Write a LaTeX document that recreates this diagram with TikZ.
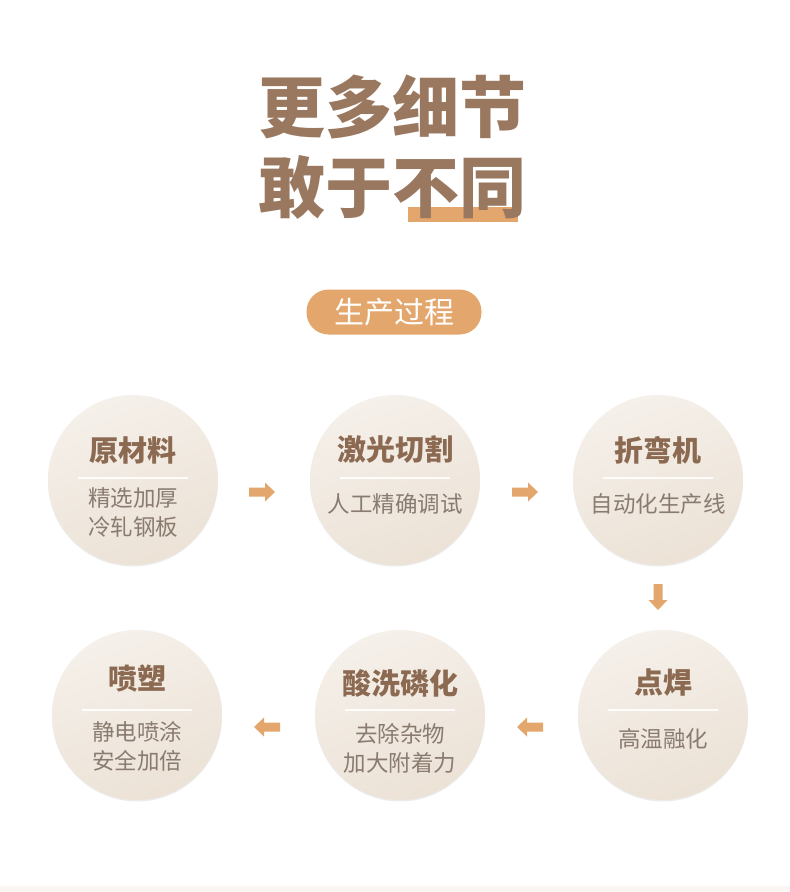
\documentclass[tikz,border=0pt]{standalone}
\usepackage{fontspec}
\newfontfamily\cjk{Noto Sans CJK SC}
\usetikzlibrary{arrows.meta,shadows,fadings}
\definecolor{titlebrown}{HTML}{9A7860}
\definecolor{accent}{HTML}{E3A66C}
\definecolor{headbrown}{HTML}{8C6A52}
\definecolor{subgray}{HTML}{8A7B70}
\definecolor{circA}{HTML}{F5F0EA}
\definecolor{circB}{HTML}{ECE2D6}
\tikzset{
  stepcircle/.style={circle, minimum size=170pt, inner sep=0pt, top color=circA, bottom color=circB, shading angle=20},
  head/.style={font=\cjk\bfseries\fontsize{29}{32}\selectfont, text=headbrown, inner sep=0pt},
  sub/.style={font=\cjk\fontsize{22.5}{29}\selectfont, text=subgray, align=center, inner sep=0pt},
  sepline/.style={draw=white, line width=1.2pt, opacity=0.9},
}
\newcommand{\blockarrow}[2]{% center, rotation
  \fill[accent, shift={#1}, rotate=#2] (-13,-4.5) -- (3,-4.5) -- (3,-9.5) -- (13,0) -- (3,9.5) -- (3,4.5) -- (-13,4.5) -- cycle;}
\begin{document}
\begin{tikzpicture}[x=1pt,y=-1pt]
\useasboundingbox (0,0) rectangle (790,892);
\fill[white] (0,0) rectangle (790,892);
\fill[circA!60] (0,886) rectangle (790,892);
% title
\fill[accent] (408,207) rectangle (518,222);
\node[font=\cjk\bfseries\fontsize{67}{70}\selectfont, text=titlebrown, inner sep=0pt] (t1) at (392,107) {更多细节};
\node[font=\cjk\bfseries\fontsize{67}{70}\selectfont, text=titlebrown, inner sep=0pt] (t2) at (392,187) {敢于不同};
% pill
\node[fill=accent, rounded corners=22pt, minimum width=175pt, minimum height=45pt, inner sep=0pt,
      font=\cjk\fontsize{30}{32}\selectfont, text=white] (pill) at (394,312) {生产过程};
% circles
\foreach \n/\x/\y in {c1/133/480, c2/395/480, c3/658/480, c4/663/715, c5/400/715, c6/137/715}{
  \node[stepcircle, drop shadow={shadow xshift=0pt, shadow yshift=-1.5pt, opacity=0.12, fill=black!60}] (\n) at (\x,\y) {};
}
% circle contents
\node[head] (h1) at (133,450) {原材料};
\draw[sepline] (78,478) -- (188,478);
\node[sub] (s1) at (133,512) {精选加厚\\冷轧钢板};
\node[head] (h2) at (395,450) {激光切割};
\draw[sepline] (340,478) -- (450,478);
\node[sub] (s2) at (395,504) {人工精确调试};
\node[head] (h3) at (658,450) {折弯机};
\draw[sepline] (603,478) -- (713,478);
\node[sub] (s3) at (658,504) {自动化生产线};
\node[head] (h4) at (663,683) {点焊};
\draw[sepline] (608,710) -- (718,710);
\node[sub] (s4) at (663,739) {高温融化};
\node[head] (h5) at (400,683) {酸洗磷化};
\draw[sepline] (345,710) -- (455,710);
\node[sub] (s5) at (400,748) {去除杂物\\加大附着力};
\node[head] (h6) at (137,678) {喷塑};
\draw[sepline] (82,710) -- (192,710);
\node[sub] (s6) at (137,746) {静电喷涂\\安全加倍};
% arrows
\blockarrow{(262,492)}{0}
\blockarrow{(525,492)}{0}
\blockarrow{(658,597)}{-90}
\blockarrow{(530,727)}{180}
\blockarrow{(267,727)}{180}
\end{tikzpicture}
\end{document}
